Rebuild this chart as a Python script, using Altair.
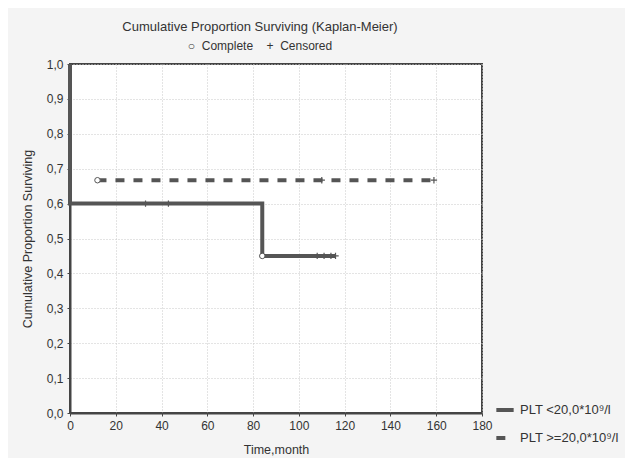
import altair as alt
import pandas as pd

S1 = "PLT <20,0*10⁹/l"
S2 = "PLT >=20,0*10⁹/l"

# step curves (time, survival)
lt_time = [0, 0, 84, 84, 116]
lt_surv = [1.0, 0.6, 0.6, 0.45, 0.45]
ge_time = [12, 159]
ge_surv = [0.667, 0.667]

# complete events (circles)
comp_time = [84, 12]
comp_surv = [0.45, 0.667]
comp_series = [S1, S2]

# censored (plus)
cens_time = [33, 43, 108, 111, 114, 116, 110, 159]
cens_surv = [0.6, 0.6, 0.45, 0.45, 0.45, 0.45, 0.667, 0.667]
cens_series = [S1, S1, S1, S1, S1, S1, S2, S2]

x_ticks = [0, 20, 40, 60, 80, 100, 120, 140, 160, 180]
y_ticks = [0.0, 0.1, 0.2, 0.3, 0.4, 0.5, 0.6, 0.7, 0.8, 0.9, 1.0]

lines = pd.DataFrame({
    "t": lt_time + ge_time,
    "s": lt_surv + ge_surv,
    "series": [S1] * len(lt_time) + [S2] * len(ge_time),
    "order": list(range(len(lt_time))) + list(range(len(ge_time))),
})
comp = pd.DataFrame({"t": comp_time, "s": comp_surv, "series": comp_series})
cens = pd.DataFrame({"t": cens_time, "s": cens_surv, "series": cens_series})

FONT = "Liberation Sans"
GREY = "#555555"
NB = "\u00a0"

x = alt.X("t:Q", scale=alt.Scale(domain=[0, 180], nice=False),
          axis=alt.Axis(values=x_ticks, title="Time,month", titleFontSize=12.5,
                        titlePadding=12, labelOverlap=False, labelFlush=False))
y = alt.Y("s:Q", scale=alt.Scale(domain=[0, 1], nice=False),
          axis=alt.Axis(values=y_ticks,
                        labelExpr="replace(format(datum.value, '.1f'), '.', ',')",
                        labelOverlap=False, labelFlush=False, titleFontSize=12.5,
                        title="Cumulative Proportion Surviving", titlePadding=12))

line_layer = alt.Chart(lines).mark_line(strokeWidth=4, color=GREY).encode(
    x=x, y=y, order="order:Q",
    strokeDash=alt.StrokeDash("series:N",
        scale=alt.Scale(domain=[S1, S2], range=[[1, 0], [9, 9]]),
        legend=alt.Legend(title=None, orient="none", legendX=424, legendY=335,
                          symbolType="stroke", symbolStrokeWidth=4,
                          symbolStrokeColor=GREY, symbolSize=300,
                          labelFontSize=13, labelColor="#333", rowPadding=9,
                          labelFont=FONT)),
    detail="series:N",
)

comp_layer = alt.Chart(comp).mark_point(shape="circle", size=30, filled=True,
                                        fill="white", stroke=GREY, strokeWidth=1,
                                        opacity=1).encode(x=x, y=y)
cens_layer = alt.Chart(cens).mark_point(shape="M-1,0H1M0,-1V1", size=40, filled=False,
                                        color=GREY, strokeWidth=1.2,
                                        opacity=1).encode(x=x, y=y)

chart = alt.layer(line_layer, comp_layer, cens_layer).properties(
    width=412, height=349,
    title=alt.TitleParams(
        "Cumulative Proportion Surviving (Kaplan-Meier)",
        subtitle=f"○{NB}{NB}Complete{NB}{NB}{NB}{NB}+{NB}{NB}Censored",
        fontSize=13, subtitleFontSize=12, font=FONT, subtitleFont=FONT,
        fontWeight="normal", color="#333", subtitleColor="#333",
        anchor="middle", offset=4, subtitlePadding=7, dx=-16,
    ),
    autosize=alt.AutoSizeParams(type="none"),
    padding={"left": 62, "top": 56, "right": 143, "bottom": 45},
).configure(background="#f4f4f4").configure_view(
    fill="white", stroke="#444", strokeWidth=2
).configure_axis(
    labelFont=FONT, titleFont=FONT, labelFontSize=12, titleFontSize=12,
    titleFontWeight="normal", labelColor="#333", titleColor="#333",
    grid=True, gridColor="#c8c8c8", gridDash=[1, 2], gridWidth=1,
    domainColor="#444", domainWidth=2, tickColor="#444", tickSize=3,
    labelPadding=4,
)

chart.save("out.html", embed_options={"renderer": "svg", "actions": False})
